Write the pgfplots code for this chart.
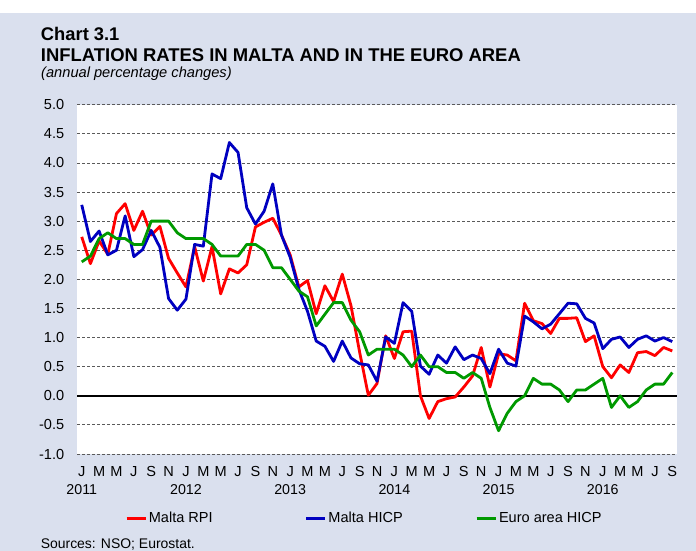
\documentclass[border=0pt]{standalone}
\usepackage{pgfplots}
\pgfplotsset{compat=1.18}
\usepackage{pgfplotstable}
\usepackage{fontspec}
\setmainfont{Liberation Sans}
\definecolor{bgblue}{RGB}{218,224,238}
\definecolor{cred}{RGB}{255,0,0}
\definecolor{cblue}{RGB}{0,0,192}
\definecolor{cgreen}{RGB}{0,153,0}
\definecolor{gridgray}{RGB}{90,90,90}
\pgfplotstableread{
i rpi hicp ea
0 2.73 3.28 2.3
1 2.27 2.65 2.4
2 2.66 2.83 2.7
3 2.43 2.42 2.8
4 3.13 2.50 2.7
5 3.30 3.09 2.7
6 2.84 2.39 2.6
7 3.17 2.51 2.6
8 2.76 2.84 3.0
9 2.91 2.55 3.0
10 2.36 1.67 3.0
11 2.11 1.47 2.8
12 1.87 1.66 2.7
13 2.56 2.60 2.7
14 1.97 2.57 2.7
15 2.56 3.81 2.6
16 1.75 3.73 2.4
17 2.18 4.35 2.4
18 2.11 4.18 2.4
19 2.25 3.23 2.6
20 2.90 2.95 2.6
21 2.98 3.17 2.5
22 3.05 3.64 2.2
23 2.76 2.76 2.2
24 2.42 2.38 2.0
25 1.87 1.83 1.8
26 1.98 1.45 1.7
27 1.41 0.94 1.2
28 1.89 0.85 1.4
29 1.62 0.59 1.6
30 2.09 0.94 1.6
31 1.55 0.65 1.3
32 0.75 0.55 1.1
33 0.01 0.53 0.7
34 0.21 0.25 0.8
35 1.03 1.01 0.8
36 0.64 0.90 0.8
37 1.10 1.60 0.7
38 1.11 1.45 0.5
39 0.00 0.51 0.7
40 -0.39 0.37 0.5
41 -0.10 0.70 0.5
42 -0.05 0.56 0.4
43 -0.02 0.84 0.4
44 0.15 0.62 0.3
45 0.34 0.70 0.4
46 0.83 0.64 0.3
47 0.15 0.38 -0.2
48 0.72 0.80 -0.6
49 0.70 0.56 -0.3
50 0.60 0.51 -0.1
51 1.59 1.37 0.0
52 1.29 1.27 0.3
53 1.24 1.15 0.2
54 1.07 1.23 0.2
55 1.33 1.41 0.1
56 1.33 1.59 -0.1
57 1.34 1.58 0.1
58 0.93 1.33 0.1
59 1.03 1.25 0.2
60 0.50 0.81 0.3
61 0.31 0.97 -0.2
62 0.53 1.01 0.0
63 0.40 0.83 -0.2
64 0.74 0.97 -0.1
65 0.76 1.03 0.1
66 0.69 0.94 0.2
67 0.83 1.00 0.2
68 0.77 0.93 0.4
}\datatable
\begin{document}
\begin{tikzpicture}[x=1bp,y=1bp]
\fill[white] (-77.4,-97) rectangle (618.6,454);
\fill[bgblue] (-77.4,-97) rectangle (618.6,441.3);
\node[anchor=base west,inner sep=0pt,font=\fontsize{18.4}{21}\selectfont\bfseries] at (-36.6,413.3) {Chart 3.1};
\node[anchor=base west,inner sep=0pt,font=\fontsize{18.5}{21}\selectfont\bfseries] at (-36.6,392.3) {INFLATION RATES IN MALTA AND IN THE EURO AREA};
\node[anchor=base west,inner sep=0pt,font=\fontsize{14.7}{17}\selectfont\itshape] at (-36.4,376.5) {(annual percentage changes)};
\begin{axis}[
  scale only axis,
  width=599.2bp, height=349.3bp,
  xmin=-0.5, xmax=68.5, ymin=-1, ymax=5,
  axis background/.style={fill=white},
  axis line style={draw=none},
  major tick length=0pt,
  ytick={-1,-0.5,...,5},
  yticklabel style={/pgf/number format/fixed,/pgf/number format/fixed zerofill,/pgf/number format/precision=1,xshift=-9.7bp},
  ymajorgrids,
  grid style={gridgray, dash pattern=on 3bp off 2bp, line width=0.8bp},
  extra y ticks={0},
  extra y tick labels={},
  extra y tick style={grid style={solid, black, line width=1.8bp}},
  xtick={0,2,...,68},
  xticklabels={J,M,M,J,S,N,J,M,M,J,S,N,J,M,M,J,S,N,J,M,M,J,S,N,J,M,M,J,S,N,J,M,M,J,S},
  tick label style={font=\fontsize{14.6}{17}\selectfont},
  /pgf/number format/assume math mode=true,
  xticklabel style={yshift=-8.5bp},
  clip=false,
  legend columns=3,
  legend style={at={(axis description cs:0.0795,-0.184)}, anchor=west, draw=none, fill=none,
    inner sep=0pt, font=\fontsize{14.6}{17}\selectfont,
    /tikz/every even column/.append style={column sep=0pt}},
  legend cell align=left,
  legend image code/.code={\draw[#1,line width=2.6bp] (0bp,0bp) -- (19bp,0bp);},
  every axis plot/.append style={line width=2.8bp, line join=round, mark=none},
]
\addplot[cred] table[x=i,y=rpi] {\datatable};
\addlegendentry{\makebox[154bp][l]{Malta RPI}}
\addplot[cblue] table[x=i,y=hicp] {\datatable};
\addlegendentry{\makebox[145bp][l]{Malta HICP}}
\addplot[cgreen] table[x=i,y=ea] {\datatable};
\addlegendentry{Euro area HICP}
\node[font=\fontsize{14.3}{17}\selectfont] at (axis cs:0,-1) [yshift=-36bp] {2011};
\node[font=\fontsize{14.3}{17}\selectfont] at (axis cs:12,-1) [yshift=-36bp] {2012};
\node[font=\fontsize{14.3}{17}\selectfont] at (axis cs:24,-1) [yshift=-36bp] {2013};
\node[font=\fontsize{14.3}{17}\selectfont] at (axis cs:36,-1) [yshift=-36bp] {2014};
\node[font=\fontsize{14.3}{17}\selectfont] at (axis cs:48,-1) [yshift=-36bp] {2015};
\node[font=\fontsize{14.3}{17}\selectfont] at (axis cs:60,-1) [yshift=-36bp] {2016};
\end{axis}
\node[anchor=base west,inner sep=0pt,font=\fontsize{14}{16}\selectfont] at (-36.8,-95) {Sources: NSO; Eurostat.};
\pgfresetboundingbox
\path[use as bounding box] (-77.4,-97) rectangle (618.6,454);
\end{tikzpicture}
\end{document}
